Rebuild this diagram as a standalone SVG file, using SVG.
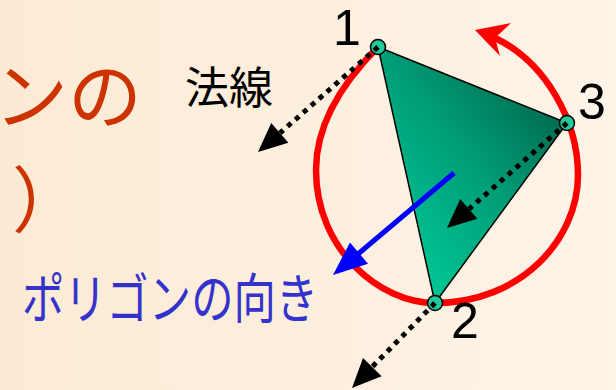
<svg xmlns="http://www.w3.org/2000/svg" width="616" height="390" viewBox="0 0 616 390">
<defs>
  <linearGradient id="bg" x1="0" y1="0" x2="1" y2="0">
    <stop offset="0" stop-color="#FCEAD4"/>
    <stop offset="1" stop-color="#FEF4E8"/>
  </linearGradient>
  <linearGradient id="tri" gradientUnits="userSpaceOnUse" x1="410" y1="250" x2="575" y2="115">
    <stop offset="0" stop-color="#00C291"/>
    <stop offset="0.5" stop-color="#009C76"/>
    <stop offset="1" stop-color="#00664A"/>
  </linearGradient>
</defs>
<style>
  .title { font-family: "Noto Sans CJK JP", "Noto Sans CJK SC", sans-serif; fill: #CC3300; }
  .num { font-family: "Liberation Sans", Arial, sans-serif; font-size: 50px; fill: #000; }
  .jp { font-family: "Noto Sans CJK JP", "Noto Sans CJK SC", sans-serif; }
  .normal { stroke: #000; stroke-width: 5; stroke-dasharray: 5 5.5; fill: none; }
  .head { fill: #000; }
  .vertex { fill: #22C99D; stroke: #000; stroke-width: 1.5; }
</style>
<rect x="0" y="0" width="616" height="390" fill="url(#bg)"/>

<g id="title">
  <text class="title" x="142" y="123" font-size="74" text-anchor="end">ンの</text>
  <text class="title" x="12" y="226" font-size="72">）</text>
</g>

<g id="rotation">
  <path d="M378,47 C335,90 316,132 316,170 C316,250 380,303 435,303 C520,303 578,240 578,175 C578,120 545,62 495,38" fill="none" stroke="#FF0000" stroke-width="6.5"/>
  <polygon points="475,30 511,23 495,38 500,56" fill="#FF0000"/>
</g>

<g id="polygon">
  <polygon points="378,47 567,123 435,303" fill="url(#tri)" stroke="#000" stroke-width="1.5" stroke-linejoin="round"/>
</g>

<g id="vertices">
  <circle id="v1" class="vertex" cx="378" cy="47" r="7.5"/>
  <circle id="v2" class="vertex" cx="435" cy="303" r="7.5"/>
  <circle id="v3" class="vertex" cx="567" cy="123" r="7.5"/>
</g>

<g id="connectors">
  <path class="normal" d="M378,47 L280,133"/>
  <polygon class="head" points="258,152 271.2,123.1 288.4,142.7"/>
  <path class="normal" d="M567,123 L469,209"/>
  <polygon class="head" points="447,228 460.2,199.1 477.4,218.7"/>
  <path class="normal" d="M435,303 L372,367"/>
  <polygon class="head" points="352,388 363,358.1 381.6,376.3"/>
  <path d="M454,173 L358,254" stroke="#0000FF" stroke-width="5" fill="none"/>
  <polygon points="333,275 350,242.4 368,263.8" fill="#0000FF"/>
</g>

<g id="labels">
  <text class="num" x="333" y="45">1</text>
  <text class="num" x="451" y="338">2</text>
  <text class="num" x="578" y="119">3</text>
  <text class="jp" x="185" y="104" font-size="44" fill="#000">法線</text>
  <text class="jp" x="22" y="319" font-size="54" fill="#3333CC" textLength="296" lengthAdjust="spacingAndGlyphs">ポリゴンの向き</text>
</g>
</svg>
